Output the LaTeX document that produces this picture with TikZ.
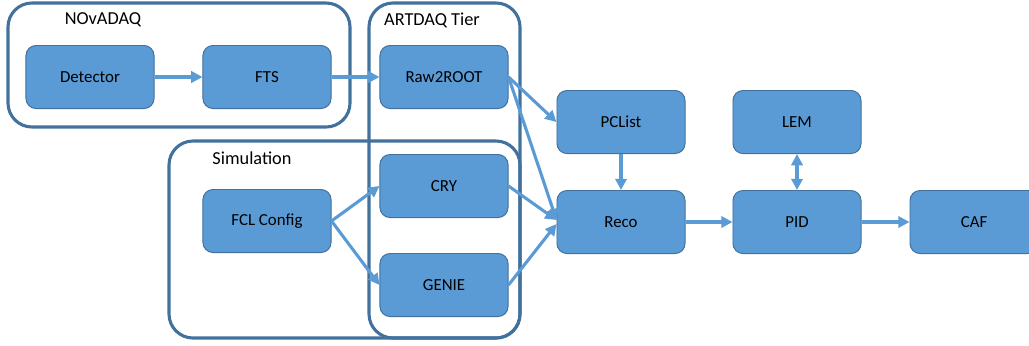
\documentclass[tikz,border=0pt]{standalone}
\usepackage{fontspec}
\setmainfont{Carlito}
\usepackage{xcolor}
\usetikzlibrary{arrows.meta}
\definecolor{boxfill}{HTML}{5B9BD5}
\definecolor{boxline}{HTML}{41719C}
\definecolor{grpline}{HTML}{41719C}
\tikzset{blk/.style={rectangle,rounded corners=0.25cm,draw=boxline,fill=boxfill,line width=0.7pt,minimum width=3.2cm,minimum height=1.575cm,inner sep=0pt,font=\fontsize{12}{14}\selectfont},
  grp/.style={draw=grpline,line width=2.2pt,rounded corners=0.6cm},
  grplabel/.style={font=\fontsize{13}{15}\selectfont,inner sep=0pt},
  flow/.style={draw=boxfill,line width=2.2pt,-{Triangle[length=8pt,width=8pt]}}}

\begin{document}
\begin{tikzpicture}[x=0.025cm,y=-0.025cm]
    \useasboundingbox (0,0) rectangle (1029,345);
    \begin{scope}
    \clip (0,0) rectangle (1029,345);

    % groups
    \draw[grp] (8,3) rectangle (350,127);
    \draw[grp] (369,3) rectangle (520,338);
    \draw[grp] (169,141) rectangle (520,338);
    \node[grplabel] (daqlabel) at (103,20) {NOvADAQ};
    \node[grplabel] (artlabel) at (432,20) {ARTDAQ Tier};
    \node[grplabel] (simlabel) at (252,158) {Simulation};

    \node[blk] (det) at (90,77) {Detector};
    \node[blk] (fts) at (267,77) {FTS};
    \node[blk] (raw) at (444,77) {Raw2ROOT};
    \node[blk] (fcl) at (267,221) {FCL Config};
    \node[blk] (cry) at (444,186) {CRY};
    \node[blk] (gen) at (444,285) {GENIE};
    \node[blk] (pcl) at (621,122) {PCList};
    \node[blk] (rec) at (621,222) {Reco};
    \node[blk] (lem) at (797,122) {LEM};
    \node[blk] (pid) at (797,222) {PID};
    \node[blk] (caf) at (974,222) {CAF};

    \draw[flow] (det) -- (fts);
    \draw[flow] (fts) -- (raw);
    \draw[flow] (raw.east) -- (pcl.west);
    \draw[flow] (raw.east) -- ([yshift=0.05cm]rec.west);
    \draw[flow] (cry.east) -- ([yshift=0.05cm]rec.west);
    \draw[flow] (gen.east) -- ([yshift=-0.05cm]rec.west);
    \draw[flow] (fcl.east) -- (cry.west);
    \draw[flow] (fcl.east) -- (gen.west);
    \draw[flow] (pcl) -- (rec);
    \draw[flow] (rec) -- (pid);
    \draw[flow] (pid) -- (caf);
    \draw[flow,{Triangle[length=8pt,width=8pt]}-{Triangle[length=8pt,width=8pt]}] (lem) -- (pid);
    \end{scope}
\end{tikzpicture}
\end{document}
